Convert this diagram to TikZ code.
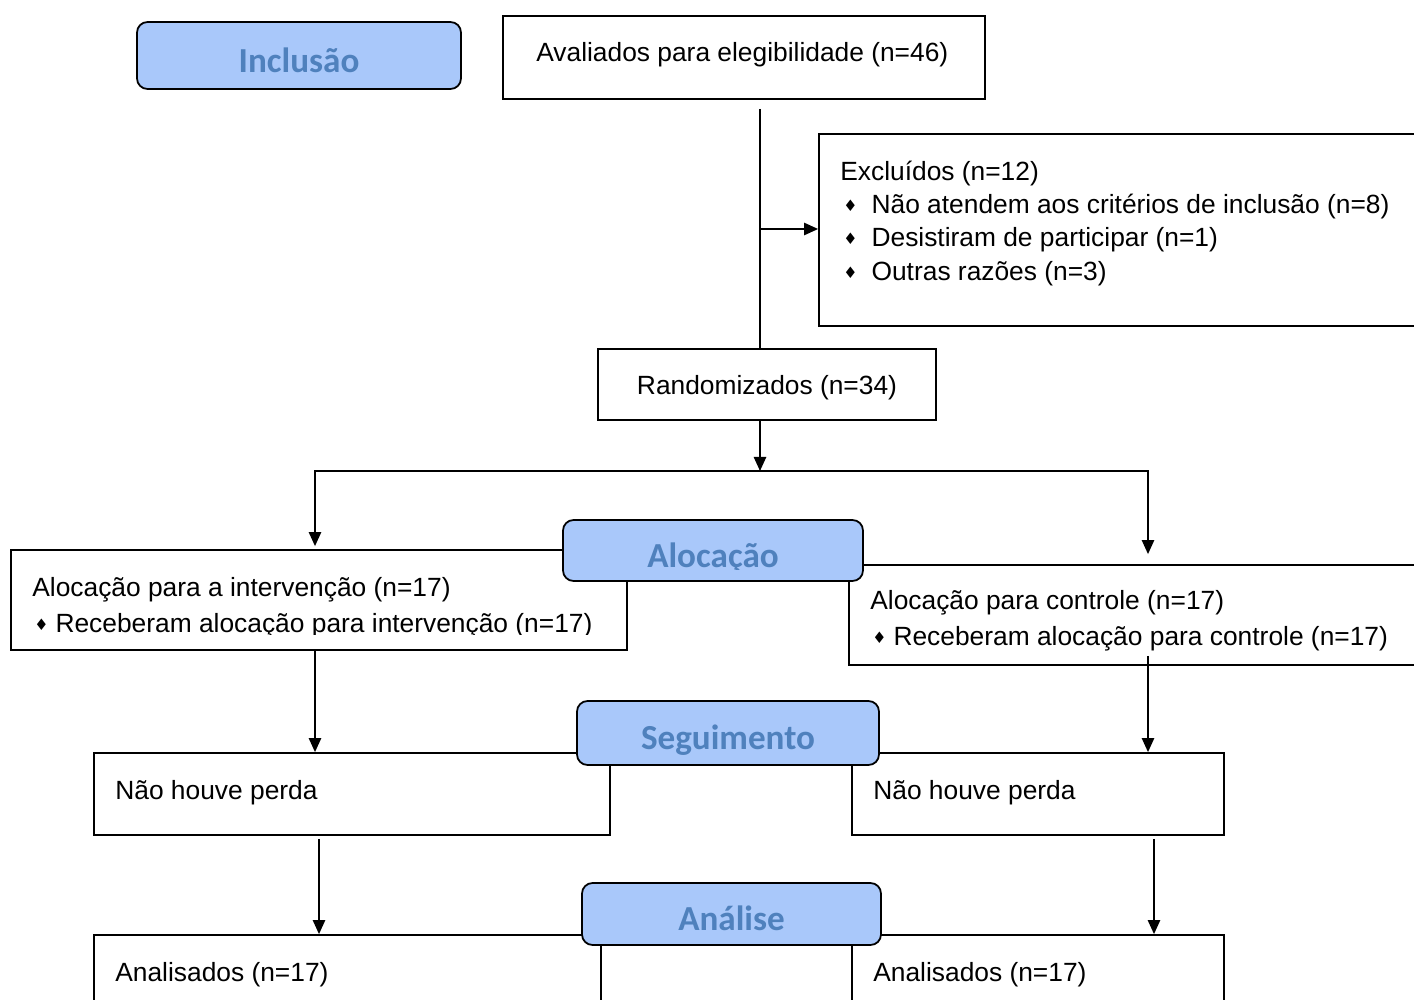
\documentclass[tikz,border=0pt]{standalone}
\usepackage{fontspec}
\setmainfont{Liberation Sans}
\newfontfamily\headfont{Carlito}
\newfontfamily\symfont{DejaVu Sans}
\usepackage{tikz}
\usetikzlibrary{arrows.meta, positioning, calc}
\definecolor{headfill}{HTML}{A9C8FA}
\definecolor{headtext}{HTML}{4F81BD}
\newcommand{\bul}[1]{{\symfont\fontsize{9}{10}\selectfont\raisebox{1.5pt}{♦}}\hspace{#1}}

\begin{document}
\begin{tikzpicture}[
    x=0.02cm, y=-0.02cm,
    box/.style={
        draw,
        line width=1pt,
        inner sep=0pt
    },
    dims/.style 2 args={
        minimum width=#1*0.02cm,
        minimum height=#2*0.02cm
    },
    header/.style={
        draw,
        line width=1pt,
        rounded corners=6pt,
        fill=headfill,
        text=headtext,
        inner sep=0pt,
        text height=19pt,
        text depth=0pt,
        font=\headfont\bfseries\fontsize{20}{24}\selectfont
    },
    txt/.style={
        font=\fontsize{15}{18}\selectfont,
        anchor=west,
        inner sep=0pt
    },
    arr/.style={
        -{Triangle[length=8pt, width=7pt]},
        line width=1pt
    }
]

\useasboundingbox (0,0) rectangle (1414,1000);
\clip (0,0) rectangle (1414,1000);

% Boxes
\node[box, dims={482}{83}] (aval) at (744,57.5) {};
\node[box, dims={621}{192}] (excl) at (1129.5,230) {};
\node[box, dims={338}{71}, text depth=0pt, font=\fontsize{15}{18}\selectfont] (rand) at (767,384.5) {Randomizados (n=34)};
\node[box, dims={616}{100}] (intv) at (319,600) {};
\node[box, dims={598}{100}] (ctrl) at (1148,615) {};
\node[box, dims={516}{82}] (perdai) at (352,794) {};
\node[box, dims={372}{82}] (perdac) at (1038,794) {};
\node[box, dims={507}{105}] (anai) at (347.5,987.5) {};
\node[box, dims={372}{105}] (anac) at (1038,987.5) {};

% Texts
\node[txt] (avaltxt) at (536,55) {Avaliados para elegibilidade (n=46)};

\node[txt] (excltxt) at (840,174) {Excluídos (n=12)};
\node[txt] (exclone) at (843,207) {\bul{8pt}Não atendem aos critérios de inclusão (n=8)};
\node[txt] (excltwo) at (843,240) {\bul{8pt}Desistiram de participar (n=1)};
\node[txt] (exclthree) at (843,274) {\bul{8pt}Outras razões (n=3)};

\node[txt] (intvtxt) at (32,590) {Alocação para a intervenção (n=17)};
\begin{scope}
    \clip (11,600) rectangle (627,634);
    \node[txt] (intvone) at (34,626) {\bul{4pt}Receberam alocação para intervenção (n=17)};
\end{scope}

\node[txt] (ctrltxt) at (870,603) {Alocação para controle (n=17)};
\node[txt] (ctrlone) at (872,639) {\bul{4pt}Receberam alocação para controle (n=17)};

\node[txt] (perdaitxt) at (115,793) {Não houve perda};
\node[txt] (perdactxt) at (873,793) {Não houve perda};
\node[txt] (anaitxt) at (115,975) {Analisados (n=17)};
\node[txt] (anactxt) at (873,975) {Analisados (n=17)};

% Connectors
\coordinate (start) at (760,109);
\coordinate (split) at (760,229);
\coordinate (fork) at (760,471);
\draw[line width=1pt] (start) -- (start |- rand.north);
\draw[arr] (split) -- (split -| excl.west);
\draw[arr] (rand.south -| fork) -- (fork);
\draw[arr] (fork) -| ([xshift=-0.08cm, yshift=0.06cm]intv.north);
\draw[arr] (fork) -| ([yshift=0.2cm]ctrl.north);
\draw[arr] ([xshift=-0.08cm]intv.south) -- ([xshift=-0.08cm]intv.south |- perdai.north);
\draw[arr] ([yshift=0.2cm]ctrl.south) -- (ctrl.south |- perdac.north);
\draw[arr] (intv.south |- perdai.south) ++(0,3) -- (intv.south |- anai.north);
\draw[arr] ([xshift=0.12cm]ctrl.south |- perdac.south) ++(0,3) -- ([xshift=0.12cm]ctrl.south |- anac.north);

% Headers
\node[header, dims={324}{67}] (hinc) at (299,55.5) {Inclusão};
\node[header, dims={300}{61}] (haloc) at (713,550.5) {};
\begin{scope}
    \clip (600,530) rectangle (840,569);
    \node[header, draw=none, fill=none, dims={300}{61}] (haloctxt) at (713,550.5) {Alocação};
\end{scope}
\node[header, dims={302}{64}] (hseg) at (728,733) {Seguimento};
\node[header, dims={299}{62}] (hana) at (731.5,914) {Análise};

\end{tikzpicture}
\end{document}
